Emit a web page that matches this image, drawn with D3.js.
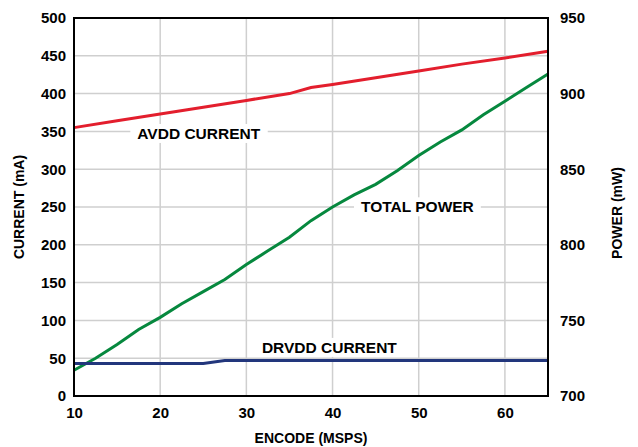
<!DOCTYPE html>
<html>
<head>
<meta charset="utf-8">
<script src="https://cdn.jsdelivr.net/npm/d3@7/dist/d3.min.js"></script>
<style>
  html, body { margin: 0; padding: 0; background: #fff; }
  svg { display: block; font-family: "Liberation Sans", Arial, sans-serif; }
</style>
</head>
<body>
<svg id="chart" width="638" height="447"></svg>
<script>
// ---- data ----
const avddEncode   = [10, 15, 20, 25, 30, 35, 37.5, 40, 45, 50, 55, 60, 65];
const avddCurrent  = [355, 364, 373, 382, 391, 400, 408, 412, 421, 430, 439, 447, 456];

const powerEncode  = [10, 12.5, 15, 17.5, 20, 22.5, 25, 27.5, 30, 32.5, 35, 37.5, 40, 42.5, 45, 47.5, 50, 52.5, 55, 57.5, 60, 62.5, 65];
const totalPower   = [717, 725, 734, 744, 752, 761, 769, 777, 787, 796, 805, 816, 825, 833, 840, 849, 859, 868, 876, 886, 895, 904, 913];

const drvddEncode  = [10, 15, 20, 25, 27.5, 30, 40, 50, 60, 65];
const drvddCurrent = [43, 43, 43, 43, 47, 47, 47, 47, 47, 47];

const xTicks = [10, 20, 30, 40, 50, 60];
const currentTicks = [0, 50, 100, 150, 200, 250, 300, 350, 400, 450, 500];
const powerTicks = [700, 750, 800, 850, 900, 950];

const seriesLabels = ["AVDD CURRENT", "TOTAL POWER", "DRVDD CURRENT"];
const axisTitles = { x: "ENCODE (MSPS)", yLeft: "CURRENT (mA)", yRight: "POWER (mW)" };

// ---- layout ----
const L = 74, R = 548, T = 18, B = 396;
const svg = d3.select("#chart");

const x = d3.scaleLinear().domain([10, 65]).range([L, R]);
const yI = d3.scaleLinear().domain([0, 500]).range([B, T]);
const yP = d3.scaleLinear().domain([700, 950]).range([B, T]);

// gridlines
const grid = svg.append("g").attr("stroke", "#cfcfcf").attr("stroke-width", 1.5);
grid.selectAll("line.v").data(xTicks.slice(1)).join("line")
  .attr("x1", d => x(d)).attr("x2", d => x(d)).attr("y1", T).attr("y2", B);
grid.selectAll("line.h").data(currentTicks.slice(1, -1)).join("line")
  .attr("y1", d => yI(d)).attr("y2", d => yI(d)).attr("x1", L).attr("x2", R);

// series labels with white boxes
const labelPos = [
  { text: seriesLabels[0], ex: 17.35, v: 340, scale: "I" },
  { text: seriesLabels[1], ex: 43.3, v: 821.5, scale: "P" },
  { text: seriesLabels[2], ex: 31.8, v: 57, scale: "I" }
];
labelPos.forEach(p => {
  const g = svg.append("g");
  const tx = x(p.ex);
  const ty = p.scale === "I" ? yI(p.v) : yP(p.v);
  const t = g.append("text").attr("x", tx).attr("y", ty)
    .attr("font-size", "15.5px").attr("font-weight", "bold").attr("fill", "#000")
    .text(p.text);
  const bb = t.node().getBBox();
  g.insert("rect", "text").attr("x", bb.x - 7).attr("y", bb.y - 1)
    .attr("width", bb.width + 14).attr("height", bb.height + 2).attr("fill", "#fff");
});

// lines
const lineI = (xs, ys) => d3.line().x((d, i) => x(xs[i])).y(d => yI(d))(ys);
const lineP = (xs, ys) => d3.line().x((d, i) => x(xs[i])).y(d => yP(d))(ys);

svg.append("path").attr("d", lineI(avddEncode, avddCurrent))
  .attr("fill", "none").attr("stroke", "#e31e2d").attr("stroke-width", 3);
svg.append("path").attr("d", lineP(powerEncode, totalPower))
  .attr("fill", "none").attr("stroke", "#06883e").attr("stroke-width", 3);
svg.append("path").attr("d", lineI(drvddEncode, drvddCurrent))
  .attr("fill", "none").attr("stroke", "#22367c").attr("stroke-width", 3);

// axes
const axisFont = sel => sel.selectAll("text").attr("font-size", "15px").attr("font-weight", "bold")
  .attr("fill", "#000").attr("font-family", "'Liberation Sans', Arial, sans-serif");

const gL = svg.append("g").attr("transform", `translate(${L},0)`)
  .call(d3.axisLeft(yI).tickValues(currentTicks).tickSize(0).tickPadding(8));
gL.select(".domain").remove(); axisFont(gL);

const gR = svg.append("g").attr("transform", `translate(${R},0)`)
  .call(d3.axisRight(yP).tickValues(powerTicks).tickSize(0).tickPadding(12));
gR.select(".domain").remove(); axisFont(gR);

const gB = svg.append("g").attr("transform", `translate(0,${B})`)
  .call(d3.axisBottom(x).tickValues(xTicks).tickSize(0).tickPadding(11));
gB.select(".domain").remove(); axisFont(gB);

// frame
svg.append("rect").attr("x", L).attr("y", T).attr("width", R - L).attr("height", B - T)
  .attr("fill", "none").attr("stroke", "#000").attr("stroke-width", 2);

// axis titles
svg.append("text").attr("x", (L + R) / 2).attr("y", 443).attr("text-anchor", "middle")
  .attr("font-size", "14px").attr("font-weight", "bold").text(axisTitles.x);
svg.append("text").attr("transform", `translate(24,${(T + B) / 2}) rotate(-90)`)
  .attr("text-anchor", "middle").attr("font-size", "14px").attr("font-weight", "bold").text(axisTitles.yLeft);
svg.append("text").attr("transform", `translate(622,${(T + B) / 2 + 6}) rotate(-90)`)
  .attr("text-anchor", "middle").attr("font-size", "14px").attr("font-weight", "bold").text(axisTitles.yRight);
</script>
</body>
</html>
